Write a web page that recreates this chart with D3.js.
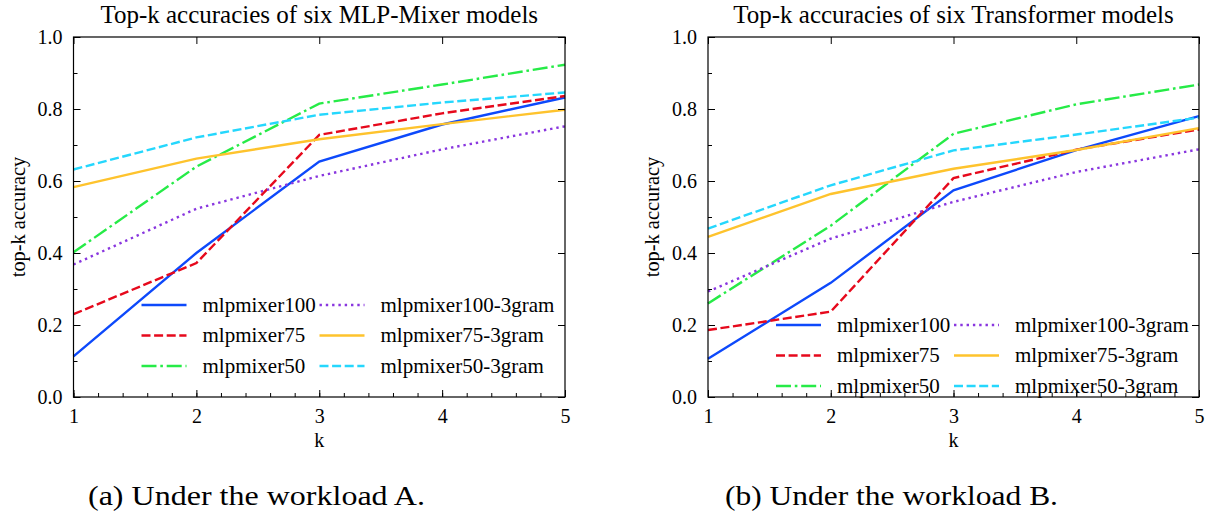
<!DOCTYPE html>
<html>
<head>
<script src="https://cdn.jsdelivr.net/npm/d3@7"></script>
<style>
  body { margin: 0; background: #fff; }
  svg text { font-family: 'Liberation Serif', 'DejaVu Serif', Times, serif !important; fill: #000; }
</style>
</head>
<body>
<script>
// k values on the x axis
var ks = [1, 2, 3, 4, 5];
var seriesNames = ['mlpmixer100', 'mlpmixer75', 'mlpmixer50', 'mlpmixer100-3gram', 'mlpmixer75-3gram', 'mlpmixer50-3gram'];
var colors = ['#0d49fb', '#e6091c', '#26eb47', '#8936df', '#fec32d', '#25d7fd'];
var dashes = ['none', '9,3.6', '15,3.8,2.6,3.8', '2.4,3.9', 'none', '9,3.6'];

// workload A (MLP-Mixer)
var mixerA = [
  [0.113, 0.400, 0.654, 0.757, 0.832],
  [0.230, 0.372, 0.728, 0.788, 0.836],
  [0.402, 0.640, 0.815, 0.868, 0.923],
  [0.368, 0.523, 0.614, 0.688, 0.752],
  [0.583, 0.662, 0.716, 0.758, 0.798],
  [0.632, 0.721, 0.784, 0.818, 0.846]
];
// workload B (Transformer)
var transB = [
  [0.106, 0.317, 0.574, 0.686, 0.780],
  [0.186, 0.237, 0.608, 0.687, 0.743],
  [0.260, 0.476, 0.731, 0.813, 0.868],
  [0.293, 0.440, 0.542, 0.625, 0.688],
  [0.445, 0.564, 0.634, 0.686, 0.747],
  [0.468, 0.588, 0.685, 0.729, 0.776]
];

var titles = ['Top-k accuracies of six MLP-Mixer models', 'Top-k accuracies of six Transformer models'];
var captions = ['(a) Under the workload A.', '(b) Under the workload B.'];
var yTicks = [0.0, 0.2, 0.4, 0.6, 0.8, 1.0];

var W = 1221, H = 519;
var FONT = "'Liberation Serif', 'DejaVu Serif', Times, serif";
var svg = d3.select('body').append('svg').attr('width', W).attr('height', H)
  .attr('font-family', FONT);

var panels = [
  {data: mixerA, x0: 73.5, x1: 565, legendTop: 305, capX: 88, capLen: 337},
  {data: transB, x0: 708, x1: 1199, legendTop: 325, capX: 725, capLen: 333}
];
var yTop = 37, yBot = 397;

panels.forEach(function(p, pi) {
  var x = d3.scaleLinear().domain([1, 5]).range([p.x0, p.x1]);
  var y = d3.scaleLinear().domain([0, 1]).range([yBot, yTop]);
  var g = svg.append('g');

  // data lines
  var line = d3.line().x(function(d, i) { return x(ks[i]); }).y(function(d) { return y(d); });
  p.data.forEach(function(vals, si) {
    g.append('path').attr('d', line(vals))
      .attr('fill', 'none').attr('stroke', colors[si]).attr('stroke-width', 2.4)
      .attr('stroke-dasharray', dashes[si]);
  });

  // frame
  g.append('rect').attr('x', p.x0).attr('y', yTop).attr('width', p.x1 - p.x0).attr('height', yBot - yTop)
    .attr('fill', 'none').attr('stroke', '#000').attr('stroke-width', 1.2);

  // axes with inward ticks
  var xMinor = d3.range(1, 5.001, 0.2);
  var yMinor = d3.range(0, 1.001, 0.1);
  var bx = g.append('g').attr('transform', 'translate(0,' + yBot + ')');
  bx.call(d3.axisBottom(x).tickValues(xMinor).tickSize(-4).tickFormat(''));
  bx.call(function(s) { s.select('.domain').remove(); });
  var bxM = g.append('g').attr('transform', 'translate(0,' + yBot + ')')
    .call(d3.axisBottom(x).tickValues(ks).tickSize(-7).tickPadding(12).tickFormat(d3.format('d')));
  bxM.select('.domain').remove();
  bxM.attr('font-family', FONT).attr('font-size', 20);

  var tx = g.append('g').attr('transform', 'translate(0,' + yTop + ')');
  tx.call(d3.axisTop(x).tickValues(xMinor).tickSize(-4).tickFormat(''));
  tx.call(d3.axisTop(x).tickValues(ks).tickSize(-7).tickFormat(''));
  tx.selectAll('.domain').remove();

  var ly = g.append('g').attr('transform', 'translate(' + p.x0 + ',0)');
  ly.call(d3.axisLeft(y).tickValues(yMinor).tickSize(-4).tickFormat(''));
  ly.selectAll('.domain').remove();
  var lyM = g.append('g').attr('transform', 'translate(' + p.x0 + ',0)')
    .call(d3.axisLeft(y).tickValues(yTicks).tickSize(-7).tickPadding(11).tickFormat(d3.format('.1f')));
  lyM.select('.domain').remove();
  lyM.attr('font-family', FONT).attr('font-size', 20);

  var ry = g.append('g').attr('transform', 'translate(' + p.x1 + ',0)');
  ry.call(d3.axisRight(y).tickValues(yMinor).tickSize(-4).tickFormat(''));
  ry.call(d3.axisRight(y).tickValues(yTicks).tickSize(-7).tickFormat(''));
  ry.selectAll('.domain').remove();
  g.selectAll('.tick line').attr('stroke', '#000').attr('stroke-width', 1);

  // titles and labels
  var cx = (p.x0 + p.x1) / 2;
  svg.append('text').attr('x', cx).attr('y', 23).attr('text-anchor', 'middle')
    .attr('font-size', 25).text(titles[pi]);
  svg.append('text').attr('x', cx).attr('y', 447).attr('text-anchor', 'middle')
    .attr('font-size', 20).text('k');
  svg.append('text').attr('transform', 'translate(' + (p.x0 - 49) + ',' + ((yTop + yBot) / 2) + ') rotate(-90)')
    .attr('text-anchor', 'middle').attr('font-size', 20.4).text('top-k accuracy');
  svg.append('text').attr('x', p.capX).attr('y', 505).attr('font-size', 27)
    .attr('textLength', p.capLen).attr('lengthAdjust', 'spacingAndGlyphs').text(captions[pi]);

  // legend, two columns
  var lg = svg.append('g');
  seriesNames.forEach(function(name, si) {
    var col = Math.floor(si / 3), row = si % 3;
    var lx = p.x0 + 68 + col * 178;
    var yy = p.legendTop + row * 30.5;
    lg.append('line').attr('x1', lx).attr('x2', lx + 45).attr('y1', yy).attr('y2', yy)
      .attr('stroke', colors[si]).attr('stroke-width', 2.4).attr('stroke-dasharray', dashes[si]);
    lg.append('text').attr('x', lx + 61).attr('y', yy).attr('dy', '0.33em')
      .attr('font-size', 21).text(name);
  });
});
</script>
</body>
</html>
